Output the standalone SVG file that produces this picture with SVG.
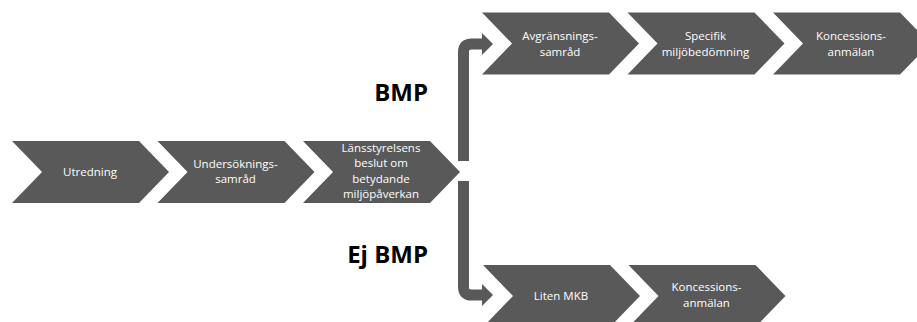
<svg xmlns="http://www.w3.org/2000/svg" width="917" height="322" viewBox="0 0 917 322">
<defs>
<style>
.chev{fill:#595959}
.t{font-family:"Open Sans","DejaVu Sans",sans-serif;font-size:11.5px;fill:#ffffff;text-anchor:middle}
.lbl{font-family:"Open Sans","DejaVu Sans",sans-serif;font-size:24px;font-weight:bold;fill:#000000;text-anchor:end}
.conn{fill:none;stroke:#595959;stroke-width:11}
</style>
<marker id="ah" viewBox="0 0 1 2" refX="0" refY="1" markerWidth="1" markerHeight="2" orient="auto" markerUnits="strokeWidth">
<polygon points="0,0 1,1 0,2" fill="#595959"/>
</marker>
<polygon id="chv" points="0,-31 127,-31 157,0 127,31 0,31 30,0"/>
</defs>
<rect width="917" height="322" fill="#ffffff"/>
<g id="connectors">
<path class="conn" d="M463.5,161 V52 Q463.5,44 471.5,44 H482" marker-end="url(#ah)"/>
<path class="conn" d="M463.5,181 V287 Q463.5,295 471.5,295 H482" marker-end="url(#ah)"/>
</g>
<g id="utredning">
<use href="#chv" class="chev" x="12" y="172"/>
<text class="t" x="90" y="176">Utredning</text>
</g>
<g id="undersokningssamrad">
<use href="#chv" class="chev" x="157.5" y="172"/>
<text class="t" x="235.5" y="167.5">Undersöknings-</text>
<text class="t" x="235.5" y="183">samråd</text>
</g>
<g id="lansstyrelsens-beslut">
<use href="#chv" class="chev" x="303" y="172"/>
<text class="t" x="381" y="151.5">Länsstyrelsens</text>
<text class="t" x="381" y="167">beslut om</text>
<text class="t" x="381" y="182.5">betydande</text>
<text class="t" x="381" y="198">miljöpåverkan</text>
</g>
<g id="avgransningssamrad">
<use href="#chv" class="chev" x="482" y="43.5"/>
<text class="t" x="560" y="40">Avgränsnings-</text>
<text class="t" x="560" y="55.5">samråd</text>
</g>
<g id="specifik-miljobedomning">
<use href="#chv" class="chev" x="627.5" y="43.5"/>
<text class="t" x="705.5" y="40">Specifik</text>
<text class="t" x="705.5" y="55.5">miljöbedömning</text>
</g>
<g id="koncessionsanmalan-1">
<use href="#chv" class="chev" x="773" y="43.5"/>
<text class="t" x="851" y="40">Koncessions-</text>
<text class="t" x="851" y="55.5">anmälan</text>
</g>
<g id="liten-mkb">
<use href="#chv" class="chev" x="483" y="296"/>
<text class="t" x="561" y="300">Liten MKB</text>
</g>
<g id="koncessionsanmalan-2">
<use href="#chv" class="chev" x="628.5" y="296"/>
<text class="t" x="706.5" y="291">Koncessions-</text>
<text class="t" x="706.5" y="306.5">anmälan</text>
</g>
<g id="labels">
<text class="lbl" x="428" y="101">BMP</text>
<text class="lbl" x="428" y="262.5">Ej BMP</text>
</g>
</svg>
